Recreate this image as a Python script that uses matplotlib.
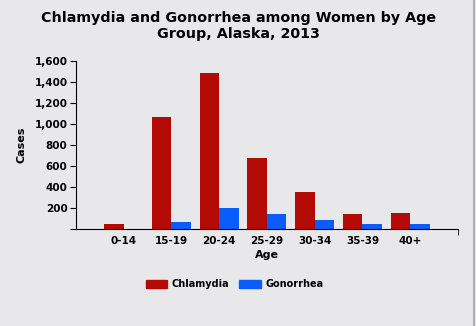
import numpy as np
import matplotlib.pyplot as plt
from matplotlib.patches import Patch

age_groups = ['0-14', '15-19', '20-24', '25-29', '30-34', '35-39', '40+']
chlamydia = [45, 1065, 1485, 675, 350, 140, 150]
gonorrhea = [2, 65, 200, 140, 90, 45, 45]
y_ticks = [200, 400, 600, 800, 1000, 1200, 1400, 1600]

bg = '#e8e8ea'
red = '#b40a05'
blue = '#0a5cff'

fig = plt.figure(figsize=(4.77, 3.26), dpi=100, facecolor=bg)
ax = fig.add_axes([0.159, 0.2975, 0.801, 0.5155])
ax.set_facecolor(bg)

x = np.arange(len(age_groups))
w = 0.41
ax.bar(x - w / 2, chlamydia, w, color=red)
ax.bar(x + w / 2, gonorrhea, w, color=blue)

ax.set_xlim(-1, 7)
ax.set_ylim(0, 1600)
ax.set_xticks(x)
ax.set_xticklabels(age_groups, fontsize=7.5, fontweight='bold')
ax.tick_params(axis='x', length=0, pad=5)
ax.set_xticks([7], minor=True)
ax.tick_params(axis='x', which='minor', length=4, direction='out')
ax.set_yticks([0] + y_ticks)
ax.set_yticklabels([''] + [f'{v:,}' for v in y_ticks], fontsize=7.5, fontweight='bold')
ax.tick_params(axis='y', length=4, direction='out', pad=2)

for s in ['top', 'right']:
    ax.spines[s].set_visible(False)

ax.set_xlabel('Age', fontsize=8, fontweight='bold', labelpad=3)
ax.set_ylabel('Cases', fontsize=8, fontweight='bold', labelpad=6)

fig.suptitle('Chlamydia and Gonorrhea among Women by Age\nGroup, Alaska, 2013',
             fontsize=10.3, fontweight='bold', y=0.965, linespacing=1.15)

handles = [Patch(color=red, label='Chlamydia'), Patch(color=blue, label='Gonorrhea')]
fig.legend(handles=handles, loc='center', bbox_to_anchor=(0.492, 0.128), ncol=2,
           frameon=False, prop={'size': 7, 'weight': 'bold'},
           handlelength=2.2, handleheight=0.9, columnspacing=1.0, handletextpad=0.5)

fig.add_artist(plt.Line2D([0.994, 0.994], [0, 1], color='#b0b0b0', lw=1.5))

fig.savefig('out.png', dpi=100, facecolor=bg)
